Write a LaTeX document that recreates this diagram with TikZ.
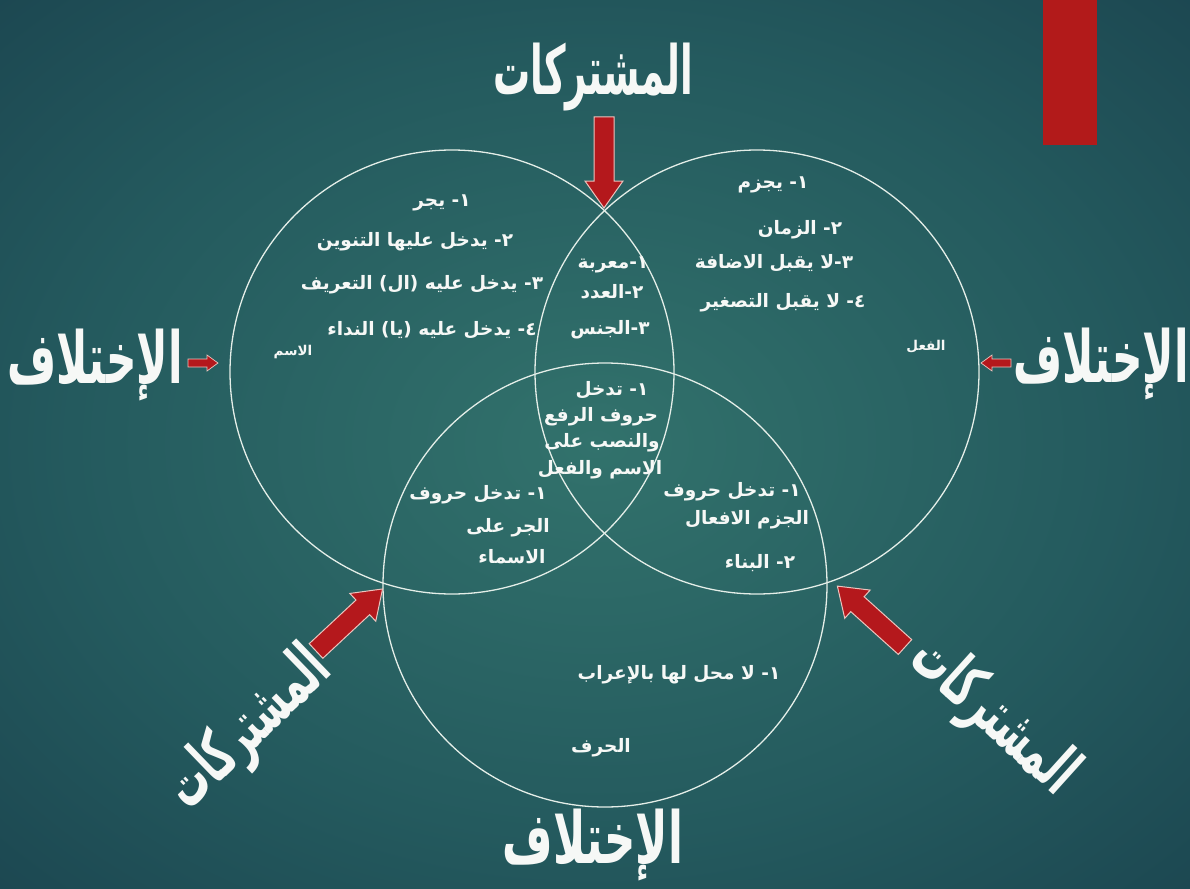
\documentclass[tikz,border=0pt]{standalone}
\usepackage{fontspec}
\usepackage{graphicx}
\TeXXeTstate=1
\newfontfamily\arabicfont[Script=Arabic]{DejaVu Sans}

\definecolor{bgin}{RGB}{50,114,108}
\definecolor{bgmid}{RGB}{36,90,94}
\definecolor{bgout}{RGB}{20,52,68}
\definecolor{ringcol}{RGB}{228,238,232}
\definecolor{arrowred}{RGB}{180,24,28}
\definecolor{arrowedge}{RGB}{236,196,190}
\definecolor{slidered}{RGB}{178,26,26}
\definecolor{txtcol}{RGB}{246,248,246}

\pgfdeclareradialshading{slidebg}{\pgfpoint{0bp}{0bp}}{%
  color(0bp)=(bgin); color(22bp)=(bgmid); color(50bp)=(bgout)}

\tikzset{
  ring/.style={circle, draw=ringcol, line width=1.3pt, inner sep=0pt, minimum size=444pt},
  item/.style={text=txtcol, inner sep=0pt, font=\arabicfont\bfseries\fontsize{18.5}{22}\selectfont},
  tag/.style={text=txtcol, inner sep=0pt, font=\arabicfont\bfseries\fontsize{13.5}{16}\selectfont},
  headtext/.style={text=txtcol, inner sep=0pt, font=\arabicfont\bfseries},
  arrowbody/.style={fill=arrowred, draw=arrowedge, line width=1pt, line join=miter},
  bigarrow/.pic={\path[arrowbody] (0,10) -- (64,10) -- (64,19) -- (91,0) -- (64,-19) -- (64,-10) -- (0,-10) -- cycle;},
  smallarrow/.pic={\path[arrowbody, line width=0.7pt] (0,4) -- (19,4) -- (19,8) -- (30,0) -- (19,-8) -- (19,-4) -- (0,-4) -- cycle;}
}

\begin{document}
\begin{tikzpicture}[x=1pt, y=-1pt]
\useasboundingbox (0,0) rectangle (1190,888);
% backdrop
\shade[shading=slidebg] (0,0) rectangle (1190,888);
\fill[slidered] (1043,0) rectangle (1097,145);

% the three sets
\node[ring] (cNoun) at (452,372) {};
\node[ring] (cVerb) at (757,372) {};
\node[ring] (cLetter) at (605,585) {};

% pointers
\pic[rotate=-90] at (604,117) {bigarrow};
\pic[rotate=43] at (316,651) {bigarrow};
\pic[rotate=138] at (905,647) {bigarrow};
\pic at (188,363) {smallarrow};
\pic[rotate=180] at (1011,363) {smallarrow};

% headings
\node[headtext] (hTop) at (593,77) {\resizebox*{200pt}{68pt}{\beginR المشتركات\endR}};
\node[headtext] (hLeft) at (95,365) {\resizebox*{175pt}{72pt}{\beginR الإختلاف\endR}};
\node[headtext] (hRight) at (1101,364) {\resizebox*{175pt}{72pt}{\beginR الإختلاف\endR}};
\node[headtext] (hBottom) at (593,845) {\resizebox*{180pt}{72pt}{\beginR الإختلاف\endR}};
\node[headtext, rotate=44] (hBL) at (250,730) {\resizebox*{200pt}{66pt}{\beginR المشتركات\endR}};
\node[headtext, rotate=-42] (hBR) at (993,717) {\resizebox*{200pt}{66pt}{\beginR المشتركات\endR}};

% noun only
\node[item] (n1) at (442,203) {\beginR ١\kern0pt- يجر\endR};
\node[item] (n2) at (415,242) {\beginR ٢\kern0pt- يدخل عليها التنوين\endR};
\node[item] (n3) at (422,285) {\beginR ٣\kern0pt- يدخل عليه (ال) التعريف\endR};
\node[item] (n4) at (432,330) {\beginR ٤\kern0pt- يدخل عليه (يا) النداء\endR};
\node[tag] (noun) at (293,352) {\beginR الاسم\endR};

% noun and verb
\node[item] (nv1) at (613,265) {\beginR ١\kern0pt-\kern0pt معربة\endR};
\node[item] (nv2) at (612,292) {\beginR ٢\kern0pt-\kern0pt العدد\endR};
\node[item] (nv3) at (610,330) {\beginR ٣\kern0pt-\kern0pt الجنس\endR};

% all three
\node[item] (a1) at (612,390) {\beginR ١\kern0pt- تدخل\endR};
\node[item] (a2) at (601,417) {\beginR حروف الرفع\endR};
\node[item] (a3) at (602,443) {\beginR والنصب على\endR};
\node[item] (a4) at (600,470) {\beginR الاسم والفعل\endR};

% verb only
\node[item] (v1) at (773,185) {\beginR ١\kern0pt- يجزم\endR};
\node[item] (v2) at (800,230) {\beginR ٢\kern0pt- الزمان\endR};
\node[item] (v3) at (774,263) {\beginR ٣\kern0pt-\kern0pt لا يقبل الاضافة\endR};
\node[item] (v4) at (783,303) {\beginR ٤\kern0pt- لا يقبل التصغير\endR};
\node[tag] (verb) at (926,347) {\beginR الفعل\endR};

% noun and letter
\node[item] (nl1) at (478,495) {\beginR ١\kern0pt- تدخل حروف\endR};
\node[item] (nl2) at (508,528) {\beginR الجر على\endR};
\node[item] (nl3) at (512,557) {\beginR الاسماء\endR};

% verb and letter
\node[item] (vl1) at (732,492) {\beginR ١\kern0pt- تدخل حروف\endR};
\node[item] (vl2) at (747,520) {\beginR الجزم الافعال\endR};
\node[item] (vl3) at (760,563) {\beginR ٢\kern0pt- البناء\endR};

% letter only
\node[item] (l1) at (679,675) {\beginR ١\kern0pt- لا محل لها بالإعراب\endR};
\node[item] (letter) at (601,748) {\beginR الحرف\endR};
\end{tikzpicture}
\end{document}
